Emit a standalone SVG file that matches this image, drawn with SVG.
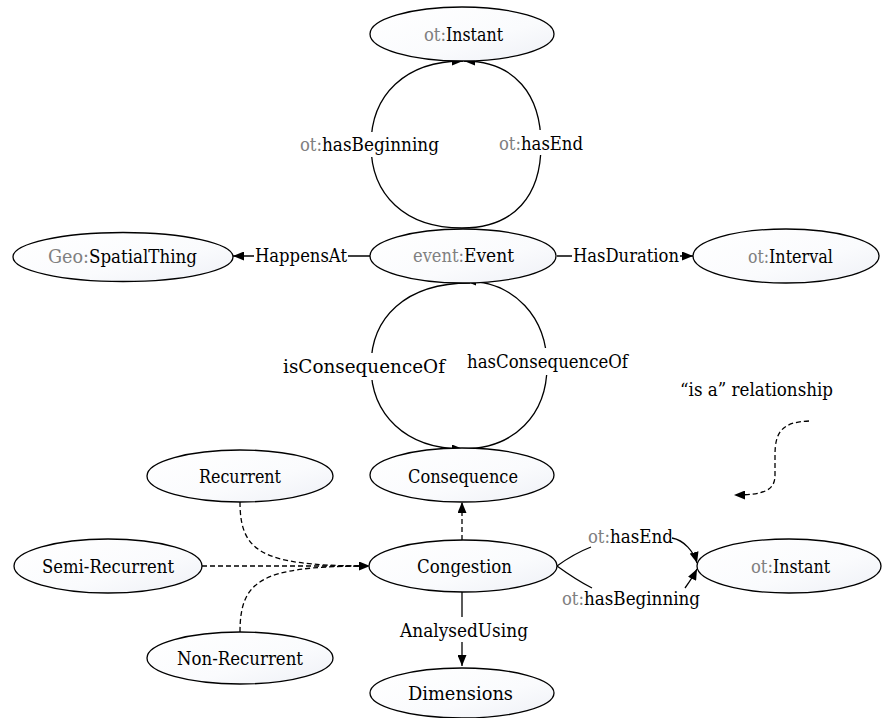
<svg xmlns="http://www.w3.org/2000/svg" width="882" height="718" viewBox="0 0 882 718">
  <style>
    text { font-family: "DejaVu Serif Condensed", "DejaVu Serif", serif; font-size: 19px; fill: #000; text-anchor: middle; }
    text.ns { fill: #808080; text-anchor: start; }
    text.nm { text-anchor: start; }
    .node ellipse { fill: url(#nodeFill); stroke: #000; stroke-width: 1.3; }
    .edge { fill: none; stroke: #000; stroke-width: 1.3; }
    .arrow { marker-end: url(#head); }
    .dash { stroke-dasharray: 5 3; }
    .bg { fill: #fff; }
  </style>
  <defs>
    <linearGradient id="nodeFill" x1="0" y1="0" x2="1" y2="1">
      <stop offset="0" stop-color="#ffffff"/>
      <stop offset="0.6" stop-color="#fafbfd"/>
      <stop offset="1" stop-color="#eef0f6"/>
    </linearGradient>
    <marker id="head" markerUnits="userSpaceOnUse" markerWidth="11" markerHeight="9" refX="11" refY="4.5" orient="auto" viewBox="0 0 11 9">
      <path d="M0,0 L11,4.5 L0,9 z" fill="#000"/>
    </marker>
  </defs>
  <rect width="882" height="718" fill="#fff"/>

  <g id="connectors">
    <!-- event:Event -> ot:Instant (top loop) -->
    <path class="edge arrow" d="M462,228 C405,228 371,195 371,145 C371,95 405,61 463,61"/>
    <path class="edge arrow" d="M462,228 C515,228 541,195 541,145 C541,95 515,61 464,61"/>
    <rect class="bg" x="299" y="132" width="143" height="25"/>
    <text class="ns" x="300" y="151" textLength="22" lengthAdjust="spacingAndGlyphs">ot:</text>
    <text class="nm" x="322" y="151" textLength="117" lengthAdjust="spacingAndGlyphs">hasBeginning</text>
    <rect class="bg" x="498" y="130" width="86" height="25"/>
    <text class="ns" x="499" y="150" textLength="22" lengthAdjust="spacingAndGlyphs">ot:</text>
    <text class="nm" x="521" y="150" textLength="62" lengthAdjust="spacingAndGlyphs">hasEnd</text>

    <!-- HappensAt / HasDuration -->
    <path class="edge arrow" d="M370,256 L233,256"/>
    <rect class="bg" x="254" y="243" width="94" height="25"/>
    <text x="301" y="262" textLength="92" lengthAdjust="spacingAndGlyphs">HappensAt</text>
    <path class="edge arrow" d="M557,256 L693,256"/>
    <rect class="bg" x="572" y="243" width="108" height="25"/>
    <text x="626" y="262" textLength="106" lengthAdjust="spacingAndGlyphs">HasDuration</text>

    <!-- event:Event <-> Consequence (lower loop) -->
    <path class="edge arrow" d="M470,283 C405,283 371,318 371,366 C371,414 405,449 463,449"/>
    <path class="edge arrow" d="M462,449 C515,449 547,414 547,366 C547,318 515,281 465,281"/>
    <rect class="bg" x="282" y="353" width="164" height="27"/>
    <text x="364" y="373" textLength="162" lengthAdjust="spacingAndGlyphs">isConsequenceOf</text>
    <rect class="bg" x="465" y="348" width="165" height="27"/>
    <text x="547.5" y="368" textLength="161" lengthAdjust="spacingAndGlyphs">hasConsequenceOf</text>

    <!-- is-a links -->
    <path class="edge dash arrow" d="M462,540 L462,502"/>
    <path class="edge dash" d="M240,502 C240,552 262,565 360,566"/>
    <path class="edge dash" d="M240,632 C240,580 262,567 360,566"/>
    <path class="edge dash arrow" d="M202,566 L370,566"/>

    <!-- AnalysedUsing -->
    <path class="edge arrow" d="M462,592 L462,666"/>
    <rect class="bg" x="398" y="617" width="132" height="25"/>
    <text x="464" y="637" textLength="128" lengthAdjust="spacingAndGlyphs">AnalysedUsing</text>

    <!-- Congestion -> ot:Instant -->
    <path class="edge" d="M557,566 C568,558 578,552 591,547"/>
    <path class="edge arrow" d="M672,538 C684,540 694,552 697,563"/>
    <text class="ns" x="588" y="543" textLength="22" lengthAdjust="spacingAndGlyphs">ot:</text>
    <text class="nm" x="610" y="543" textLength="63" lengthAdjust="spacingAndGlyphs">hasEnd</text>
    <path class="edge" d="M557,566 C568,574 578,581 592,588"/>
    <path class="edge arrow" d="M685,588 C690,581 694,575 697,569"/>
    <text class="ns" x="562" y="605" textLength="22" lengthAdjust="spacingAndGlyphs">ot:</text>
    <text class="nm" x="584" y="605" textLength="116" lengthAdjust="spacingAndGlyphs">hasBeginning</text>

    <!-- legend -->
    <text x="756.5" y="396" textLength="153" lengthAdjust="spacingAndGlyphs">“is a” relationship</text>
    <path class="edge dash arrow" d="M809,421 C782,422 775,432 775,455 L775,475 C775,490 765,495 734,495"/>
  </g>

  <g id="n-instant-top" class="node">
    <ellipse cx="462" cy="34" rx="92" ry="27"/>
    <text class="ns" x="424" y="41" textLength="22" lengthAdjust="spacingAndGlyphs">ot:</text>
    <text class="nm" x="446" y="41" textLength="57" lengthAdjust="spacingAndGlyphs">Instant</text>
  </g>
  <g id="n-spatialthing" class="node">
    <ellipse cx="123" cy="257" rx="110" ry="24.5"/>
    <text class="ns" x="48" y="263" textLength="41" lengthAdjust="spacingAndGlyphs">Geo:</text>
    <text class="nm" x="89" y="263" textLength="108" lengthAdjust="spacingAndGlyphs">SpatialThing</text>
  </g>
  <g id="n-event" class="node">
    <ellipse cx="463" cy="256" rx="93" ry="27"/>
    <text class="ns" x="413" y="262" textLength="51" lengthAdjust="spacingAndGlyphs">event:</text>
    <text class="nm" x="464" y="262" textLength="50" lengthAdjust="spacingAndGlyphs">Event</text>
  </g>
  <g id="n-interval" class="node">
    <ellipse cx="786" cy="256" rx="93" ry="27"/>
    <text class="ns" x="748" y="263" textLength="21" lengthAdjust="spacingAndGlyphs">ot:</text>
    <text class="nm" x="769" y="263" textLength="64" lengthAdjust="spacingAndGlyphs">Interval</text>
  </g>
  <g id="n-consequence" class="node">
    <ellipse cx="462" cy="475" rx="92" ry="27"/>
    <text x="463" y="483" textLength="110" lengthAdjust="spacingAndGlyphs">Consequence</text>
  </g>
  <g id="n-recurrent" class="node">
    <ellipse cx="240" cy="476" rx="93" ry="26"/>
    <text x="240" y="483" textLength="82" lengthAdjust="spacingAndGlyphs">Recurrent</text>
  </g>
  <g id="n-semirecurrent" class="node">
    <ellipse cx="108" cy="566" rx="94" ry="27"/>
    <text x="108" y="573" textLength="132" lengthAdjust="spacingAndGlyphs">Semi-Recurrent</text>
  </g>
  <g id="n-congestion" class="node">
    <ellipse cx="463" cy="566" rx="94" ry="26"/>
    <text x="464.5" y="573" textLength="95" lengthAdjust="spacingAndGlyphs">Congestion</text>
  </g>
  <g id="n-nonrecurrent" class="node">
    <ellipse cx="240" cy="658" rx="93" ry="26"/>
    <text x="240" y="665" textLength="126" lengthAdjust="spacingAndGlyphs">Non-Recurrent</text>
  </g>
  <g id="n-instant-right" class="node">
    <ellipse cx="789" cy="566" rx="92" ry="27"/>
    <text class="ns" x="751" y="573" textLength="22" lengthAdjust="spacingAndGlyphs">ot:</text>
    <text class="nm" x="773" y="573" textLength="57" lengthAdjust="spacingAndGlyphs">Instant</text>
  </g>
  <g id="n-dimensions" class="node">
    <ellipse cx="462" cy="693" rx="92" ry="25"/>
    <text x="460.5" y="700" textLength="105" lengthAdjust="spacingAndGlyphs">Dimensions</text>
  </g>
</svg>
